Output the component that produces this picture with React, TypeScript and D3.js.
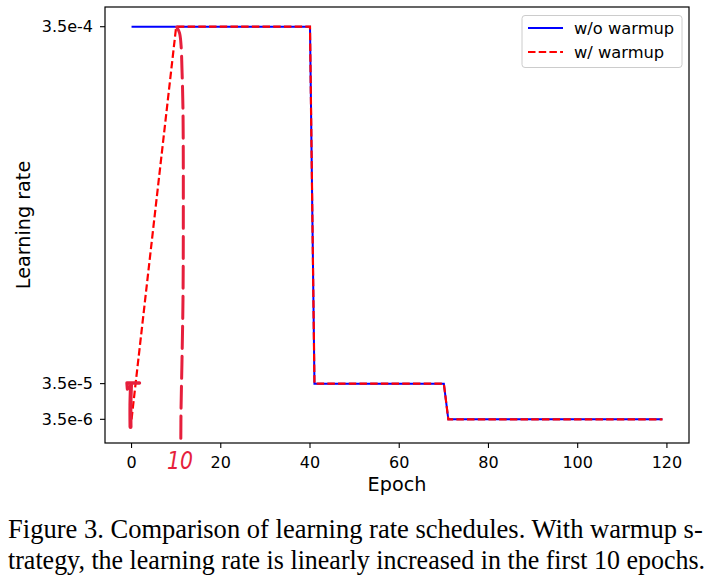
import React, { useLayoutEffect, useRef, useState } from "react";
import * as d3 from "d3";

// Polyline vertices (epoch, learning rate)
const woWarmupEpochs = [0, 40, 41, 70, 71, 119];
const woWarmupLR = [3.5e-4, 3.5e-4, 3.5e-5, 3.5e-5, 3.5e-6, 3.5e-6];
const wWarmupEpochs = [0, 10, 40, 41, 70, 71, 119];
const wWarmupLR = [3.5e-6, 3.5e-4, 3.5e-4, 3.5e-5, 3.5e-5, 3.5e-6, 3.5e-6];

const xTicks = [0, 20, 40, 60, 80, 100, 120];
const yTicks = [3.5e-4, 3.5e-5, 3.5e-6];
const yTickLabels = ["3.5e-4", "3.5e-5", "3.5e-6"];

const seriesNames = ["w/o warmup", "w/ warmup"];

// Hand-drawn red annotations, in data units (epoch, lr)
const annoCurveEpochs = [10.12, 10.75, 11.09, 11.31, 11.53, 11.6, 11.53, 11.31, 11.09, 11.04];
const annoCurveLR = [3.497e-4, 3.445e-4, 3.339e-4, 3.118e-4, 2.765e-4, 1.706e-4, 1.088e-4, 5.59e-5, 1.17e-5, -1.74e-5];
const annoBarEpochs = [-0.91, -1.02, 1.78];
const annoBarLR = [3.027e-5, 3.557e-5, 3.557e-5];
const annoStemEpochs = [-0.12, -0.25, -0.23];
const annoStemLR = [3.38e-5, 1.615e-5, -3.3e-6];
const annoText = "10";
const annoTextEpoch = 10.86;
const annoTextLR = -4.03e-5;

const captionLines = [
  "Figure 3. Comparison of learning rate schedules. With warmup s-",
  "trategy, the learning rate is linearly increased in the first 10 epochs.",
];
const captionWidths = [695, 697];

export default function App() {
  const W = 711, H = 582;
  const left = 105, right = 689, top = 7, bottom = 443;
  const x = d3.scaleLinear().domain([-5.95, 124.95]).range([left, right]);
  const y = d3.scaleLinear().domain([-1.74e-5, 3.674e-4]).range([bottom, top]);

  const capRefs = useRef<(SVGTextElement | null)[]>([]);
  const [capScale, setCapScale] = useState<number[]>([0.9, 0.9]);

  useLayoutEffect(() => {
    const s = capRefs.current.map((el, i) => {
      if (!el) return 0.9;
      const w = el.getComputedTextLength();
      return w > 0 ? captionWidths[i] / w : 0.9;
    });
    setCapScale(s);
  }, []);

  const line = d3
    .line<[number, number]>()
    .x((d) => x(d[0]))
    .y((d) => y(d[1]));
  const curve = d3
    .line<[number, number]>()
    .x((d) => x(d[0]))
    .y((d) => y(d[1]))
    .curve(d3.curveCatmullRom);

  const zip = (a: number[], b: number[]) => a.map((v, i) => [v, b[i]] as [number, number]);

  const blue = "#0000ff";
  const red = "#ff0000";
  const anno = "#e61f3c";
  const font = "'DejaVu Sans', sans-serif";

  return (
    <div style={{ position: "absolute", left: 0, top: 0 }}>
      <svg width={W} height={H} style={{ display: "block", background: "#fff" }}>
        <rect x={0} y={0} width={W} height={H} fill="#fff" />
        {/* data lines */}
        <path d={line(zip(woWarmupEpochs, woWarmupLR)) || ""} fill="none" stroke={blue} strokeWidth={2} />
        <path
          d={line(zip(wWarmupEpochs, wWarmupLR)) || ""}
          fill="none"
          stroke={red}
          strokeWidth={2.2}
          strokeDasharray="7.5,3.2"
        />
        {/* frame */}
        <rect x={left} y={top} width={right - left} height={bottom - top} fill="none" stroke="#000" strokeWidth={1.2} />
        {/* x ticks */}
        {xTicks.map((t) => (
          <g key={"x" + t}>
            <line x1={x(t)} x2={x(t)} y1={bottom} y2={bottom + 5} stroke="#000" strokeWidth={1.1} />
            <text x={x(t)} y={468} textAnchor="middle" fontFamily={font} fontSize={16} fill="#000">
              {t}
            </text>
          </g>
        ))}
        {/* y ticks */}
        {yTicks.map((t, i) => (
          <g key={"y" + i}>
            <line x1={left - 5} x2={left} y1={y(t)} y2={y(t)} stroke="#000" strokeWidth={1.1} />
            <text x={left - 12} y={y(t)} dy="0.36em" textAnchor="end" fontFamily={font} fontSize={16} fill="#000">
              {yTickLabels[i]}
            </text>
          </g>
        ))}
        {/* axis labels */}
        <text x={(left + right) / 2} y={491} textAnchor="middle" fontFamily={font} fontSize={19.2} fill="#000">
          Epoch
        </text>
        <text
          transform={`translate(30,${(top + bottom) / 2}) rotate(-90)`}
          textAnchor="middle"
          fontFamily={font}
          fontSize={19.2}
          fill="#000"
        >
          Learning rate
        </text>
        {/* legend */}
        <g>
          <rect x={522} y={15.5} width={160} height={52} rx={3} fill="#fff" fillOpacity={0.8} stroke="#cccccc" strokeWidth={1} />
          <line x1={528} x2={563} y1={28} y2={28} stroke={blue} strokeWidth={2} />
          <line x1={528} x2={563} y1={52} y2={52} stroke={red} strokeWidth={2.2} strokeDasharray="7.5,3.2" />
          <text x={574} y={34} fontFamily={font} fontSize={16.3} fill="#000">
            {seriesNames[0]}
          </text>
          <text x={574} y={58} fontFamily={font} fontSize={16.3} fill="#000">
            {seriesNames[1]}
          </text>
        </g>
        {/* hand-drawn annotations */}
        <path
          d={curve(zip(annoCurveEpochs, annoCurveLR)) || ""}
          fill="none"
          stroke={anno}
          strokeWidth={3}
          strokeLinecap="round"
          strokeDasharray="22,8"
        />
        <path d={line(zip(annoBarEpochs, annoBarLR)) || ""} fill="none" stroke={anno} strokeWidth={3.4} strokeLinecap="round" strokeLinejoin="round" />
        <path d={curve(zip(annoStemEpochs, annoStemLR)) || ""} fill="none" stroke={anno} strokeWidth={4} strokeLinecap="round" />
        <text
          x={x(annoTextEpoch)}
          y={y(annoTextLR)}
          textAnchor="middle"
          fontFamily={font}
          fontStyle="italic"
          fontSize={24}
          fill={anno}
          textLength={26}
          lengthAdjust="spacingAndGlyphs"
        >
          {annoText}
        </text>
        {/* caption */}
        {captionLines.map((c, i) => (
          <g key={"c" + i} transform={`translate(8,${538 + i * 30.5}) scale(${capScale[i]},1)`}>
            <text
              ref={(el) => {
                capRefs.current[i] = el;
              }}
              x={0}
              y={0}
              fontFamily="'Liberation Serif', 'Times New Roman', serif"
              fontSize={28}
              fill="#000"
            >
              {c}
            </text>
          </g>
        ))}
      </svg>
    </div>
  );
}
